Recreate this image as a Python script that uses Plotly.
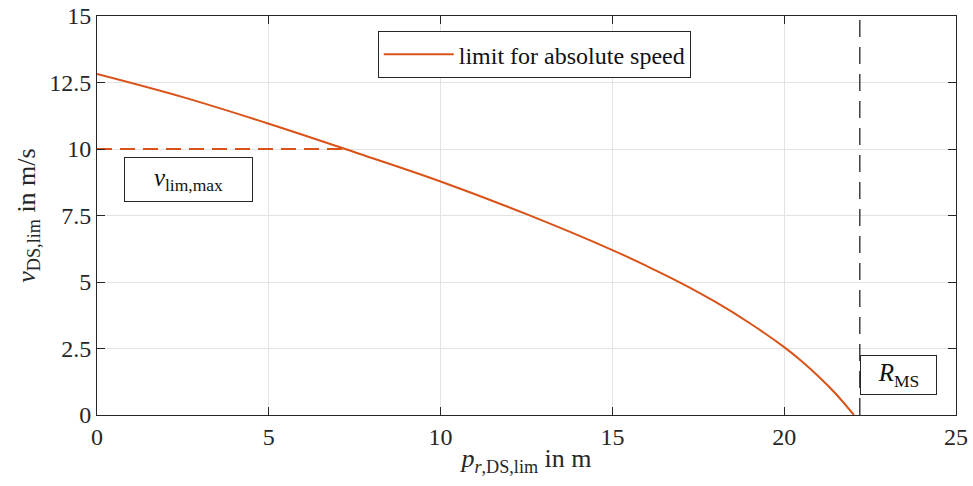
import plotly.graph_objects as go

# Data
p_pos = [0, 2.5, 5, 7.5, 10, 12.5, 15, 16, 17, 18, 19, 20, 20.5, 21, 21.5, 22.03]
v_lim = [12.82, 11.95, 10.95, 9.88, 8.78, 7.55, 6.2, 5.6, 4.96, 4.25, 3.45, 2.55, 2.03, 1.45, 0.8, 0.0]
v_lim_max = 10.0
p_cross = 7.16
R_MS = 22.2

x_ticks = [0, 5, 10, 15, 20, 25]
y_ticks = [0, 2.5, 5, 7.5, 10, 12.5, 15]
y_tick_text = ["0", "2.5", "5", "7.5", "10", "12.5", "15"]

orange = "#D95319"
font_family = "Liberation Serif"

fig = go.Figure()
fig.add_trace(go.Scatter(x=p_pos, y=v_lim, mode="lines", line=dict(color=orange, width=2, shape="spline", smoothing=1.0),
                         name="limit for absolute speed"))
fig.add_trace(go.Scatter(x=[0, p_cross], y=[v_lim_max, v_lim_max], mode="lines",
                         line=dict(color=orange, width=2, dash="15px,8px"), showlegend=False))
fig.add_trace(go.Scatter(x=[R_MS, R_MS], y=[0, 15], mode="lines",
                         line=dict(color="#404040", width=1.5, dash="17px,10px"), showlegend=False))

fig.add_annotation(x=2.67, y=8.87, xref="x", yref="y", text="<i>v</i><sub>lim,max</sub>", showarrow=False,
                   font=dict(family=font_family, size=25, color="#111"), bordercolor="#262626", borderwidth=1,
                   bgcolor="white", width=121, height=37, borderpad=3)
fig.add_annotation(x=R_MS, y=1.5, xref="x", yref="y", xanchor="left", text="<i>R</i><sub>MS</sub>", showarrow=False,
                   font=dict(family=font_family, size=25, color="#111"), bordercolor="#262626", borderwidth=1,
                   bgcolor="white", width=69, height=32, borderpad=3)

axis_common = dict(showline=True, linecolor="#262626", linewidth=1, mirror="ticks", ticks="inside", ticklen=8,
                   tickcolor="#262626", showgrid=True, gridcolor="#e3e3e3", gridwidth=1, zeroline=False,
                   automargin=False, ticklabeloverflow="allow",
                   tickfont=dict(family=font_family, size=24, color="#262626"))

fig.update_xaxes(range=[0, 25], tickvals=x_ticks, ticktext=[str(t) for t in x_ticks],
                 title=dict(text="<i>p</i><sub><i>r</i>,DS,lim</sub> in m", font=dict(family=font_family, size=26, color="#262626"), standoff=0),
                 **axis_common)
fig.update_yaxes(range=[0, 15], tickvals=y_ticks, ticktext=y_tick_text,
                 title=dict(text="<i>v</i><sub>DS,lim</sub> in m/s", font=dict(family=font_family, size=26, color="#262626"), standoff=6),
                 **axis_common)

fig.update_layout(
    width=973, height=486,
    font=dict(family=font_family),
    margin=dict(l=97, r=17, t=16, b=71, autoexpand=False),
    paper_bgcolor="white", plot_bgcolor="white",
    showlegend=True,
    legend=dict(x=0.509, y=0.962, xanchor="center", yanchor="top", bgcolor="white", bordercolor="#262626", borderwidth=1,
                itemwidth=70, font=dict(family=font_family, size=24, color="#111")),
)

# remove the default 8 px page-body margin so the figure fills the window exactly
fig.write_html("out.html", config={"displayModeBar": False},
               post_script="document.body.style.margin='0';")
